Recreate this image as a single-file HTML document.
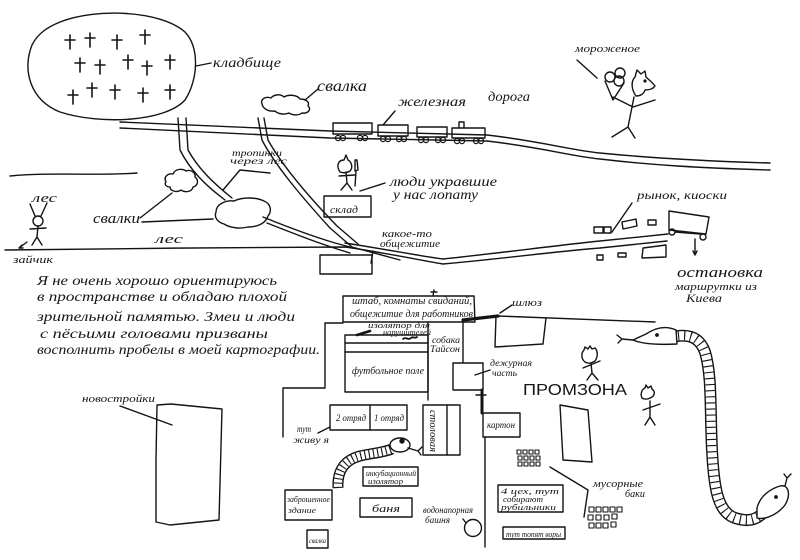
<!DOCTYPE html>
<html><head><meta charset="utf-8"><style>
html,body{margin:0;padding:0;background:#fff}
svg{display:block}
.t{font-family:"Liberation Serif","DejaVu Serif",serif;font-style:italic;fill:#151515}
.s{font-family:"Liberation Sans","DejaVu Sans",sans-serif;fill:#151515}
</style></head><body>
<svg width="800" height="560" viewBox="0 0 800 560" xmlns="http://www.w3.org/2000/svg">
<rect width="800" height="560" fill="#fff"/>
<g fill="none" stroke="#141414" stroke-width="1.4" stroke-linecap="round" stroke-linejoin="round">
<!-- cemetery -->
<path d="M60,22 C95,8 160,10 185,32 C200,48 198,80 185,100 C165,122 100,125 60,112 C30,100 22,70 32,45 C38,33 48,27 60,22 Z"/>
<path stroke-width="1.6" d="M65,40h10M70,35v14 M85,38h10M90,33v14 M112,40h10M117,35v14 M140,35h10M145,30v14
M75,63h10M80,58v14 M95,65h10M100,60v14 M123,60h10M128,55v14 M142,66h10M147,61v14 M165,60h10M170,55v14
M68,95h10M73,90v14 M87,88h10M92,83v14 M110,90h10M115,85v14 M138,93h10M143,88v14 M165,90h10M170,85v14"/>
<path d="M196,66 L211,63"/>
<!-- clouds -->
<path d="M262,104 c-2,-5 4,-8 9,-6 c3,-4 10,-4 13,-1 c5,-3 13,-2 16,2 c6,0 10,3 8,7 c4,3 0,8 -6,7 c-4,3 -10,2 -13,0 c-5,2 -11,1 -14,-2 c-6,1 -12,-2 -13,-7 z"/>
<path d="M305,100 L318,89"/>
<path d="M166,182 c-3,-5 2,-9 7,-8 c2,-5 9,-6 13,-3 c5,-2 10,2 9,6 c4,3 3,9 -2,10 c-1,5 -8,6 -12,3 c-4,3 -11,1 -11,-3 c-4,0 -6,-3 -4,-5 z"/>
<path d="M216,212 c0,-8 10,-12 18,-11 c8,-4 22,-4 30,0 c7,3 8,10 4,15 c-2,7 -10,11 -20,11 c-8,2 -18,1 -24,-3 c-7,-2 -10,-7 -8,-12 z"/>
<path d="M140,218 L172,193 M142,222 L213,219"/>
<!-- railway -->
<path d="M120,122 L330,131 L487,135 C540,141 570,150 600,153 C650,158 700,161 770,163"/>
<path d="M120,128 L330,138 L487,141 C540,147 570,156 600,159 C650,165 700,168 770,170"/>
<!-- train -->
<rect x="333" y="123" width="39" height="11"/>
<rect x="378" y="125" width="30" height="11"/>
<rect x="417" y="127" width="30" height="10"/>
<rect x="452" y="128" width="33" height="10"/>
<path d="M459,128 V122 H464 V128 M383,125 L395,111"/>
<g stroke-width="1.2">
<circle cx="338" cy="138" r="2.6"/><circle cx="343" cy="138" r="2.6"/><circle cx="360" cy="138" r="2.6"/><circle cx="365" cy="138" r="2.6"/>
<circle cx="383" cy="139" r="2.6"/><circle cx="388" cy="139" r="2.6"/><circle cx="399" cy="139" r="2.6"/><circle cx="404" cy="139" r="2.6"/>
<circle cx="421" cy="140" r="2.6"/><circle cx="426" cy="140" r="2.6"/><circle cx="438" cy="140" r="2.6"/><circle cx="443" cy="140" r="2.6"/>
<circle cx="457" cy="141" r="2.6"/><circle cx="462" cy="141" r="2.6"/><circle cx="476" cy="141" r="2.6"/><circle cx="481" cy="141" r="2.6"/>
</g>
<!-- ice cream figure -->
<path d="M577,60 L597,78"/>
<circle cx="610" cy="77" r="5"/><circle cx="620" cy="73" r="5"/><circle cx="619" cy="81" r="5"/>
<path d="M605,81 L613,100 L624,83"/>
<path d="M636,96 C631,89 631,81 635,77 L637,70 L641,74 L645,71 L646,77 C649,80 652,82 655,86 C653,89 649,90 645,90 C644,94 640,96 636,96 Z"/>
<circle cx="645" cy="81" r="0.9" fill="#141414"/>
<path d="M634,97 L628,127 M613,97 L633,107 L655,100 M628,127 L612,137 M628,127 L635,138"/>
<!-- "лес" line left -->
<path d="M10,176 C50,172 100,176 137,173"/>
<!-- paths through forest -->
<path d="M178,118 L180,150 C190,170 205,185 225,200"/>
<path d="M186,118 L188,150 C198,168 212,182 232,198"/>
<path d="M258,118 L262,140 C275,165 300,195 330,228 L352,247 L400,260"/>
<path d="M264,118 L268,140 C282,165 307,195 337,226 L358,244"/>
<path d="M263,217 C290,228 315,237 335,243 L350,247"/>
<path d="M267,223 C295,234 320,244 350,253"/>
<path d="M240,170 L223,190 M240,170 L270,173"/>
<!-- lower road -->
<path d="M5,250 C100,249 250,247 345,247 C380,252 420,260 443,264 C500,259 560,251 600,248 L667,241"/>
<path d="M345,243 C390,250 420,256 443,259 C500,253 560,245 600,241 L668,234"/>
<!-- wolf + sklad -->
<path d="M340,172 C336,166 338,160 344,160 L346,155 L348,160 C352,162 353,168 350,171 C347,173 343,173 340,172 Z"/>
<path d="M355,160 L357,160 L358,170 L355,171 Z M356,171 L355,186"/>
<path d="M346,172 L347,183 M347,183 L341,190 M347,183 L352,190 M339,176 L355,175"/>
<rect x="324" y="196" width="47" height="21"/>
<path d="M360,191 L385,183"/>
<rect x="320" y="255" width="52" height="19"/>
<path d="M371,263 L373,251"/>
<!-- hare -->
<circle cx="38" cy="221" r="5"/>
<path d="M35,216 L30,204 M41,216 L47,203 M38,226 L37,237 M30,229 L46,228 M37,237 L32,245 M37,237 L42,245 M27,242 L19,248 M19,248 L22,245 M19,248 L23,248"/>
<!-- market, bus -->
<path d="M632,203 L612,232"/>
<rect x="594" y="227" width="9" height="6"/><rect x="604" y="227" width="7" height="6"/>
<path d="M622,222 L636,219 L637,226 L623,229 Z"/>
<rect x="648" y="220" width="8" height="5"/>
<path d="M669,211 L709,217 L706,234 L669,230 Z"/>
<circle cx="672" cy="232" r="3"/><circle cx="703" cy="237" r="3"/>
<path d="M675,232 L700,234 M695,239 L695,254 M693,251 L695,255 L697,251"/>
<rect x="597" y="255" width="6" height="5"/><rect x="618" y="253" width="8" height="4"/>
<path d="M643,248 L666,245 L666,257 L642,258 Z"/>
<!-- middle complex -->
<path d="M343,296 L474,296 L475,322 L343,322 Z"/>
<path d="M325,323 L343,323 M325,323 L325,388 L283,388 L283,437"/>
<rect x="345" y="335" width="83" height="57"/>
<path d="M345,343 L428,343 M345,352 L428,352"/>
<path d="M428,322 L428,400"/>
<path d="M463,320 L463,362"/>
<rect x="453" y="363" width="30" height="27"/>
<path stroke-width="3" d="M482,390 L482,413"/>
<path d="M476,395 L486,395"/>
<rect x="483" y="413" width="37" height="24"/>
<path d="M485,437 L485,547"/>
<path stroke-width="3.2" d="M463,320 L498,316"/>
<path d="M498,316 C560,318 610,320 655,322"/>
<path d="M496,316 L495,347 L543,344 L546,318"/>
<path d="M500,313 L512,305"/>
<path d="M475,375 L490,370"/>
<path stroke-width="2.6" d="M357,335 L370,331"/>
<path stroke-width="1.8" d="M403,339 c3,-3 5,2 8,-1 c2,-2 4,1 6,-1"/>
<path d="M433,296 L434,290 M431,292 L437,292"/>
<rect x="330" y="405" width="77" height="25"/>
<path d="M370,405 L370,430"/>
<path d="M330,427 L318,433"/>
<rect x="423" y="405" width="37" height="50"/>
<path d="M447,405 L447,455"/>
<rect x="363" y="467" width="55" height="19"/>
<rect x="285" y="490" width="47" height="30"/>
<rect x="360" y="498" width="52" height="19"/>
<rect x="307" y="530" width="21" height="18"/>
<circle cx="473" cy="528" r="8.5"/>
<path d="M463,519 L466,523"/>
<rect x="498" y="485" width="65" height="27"/>
<rect x="503" y="527" width="62" height="12"/>
<path d="M560,405 L588,410 L592,462 L563,460 Z"/>
<!-- tiny squares -->
<g stroke-width="1.1">
<rect x="517" y="450" width="4" height="4"/><rect x="523" y="450" width="4" height="4"/><rect x="529" y="450" width="4" height="4"/><rect x="535" y="450" width="4" height="4"/>
<rect x="518" y="456" width="4" height="4"/><rect x="524" y="456" width="4" height="4"/><rect x="530" y="456" width="4" height="4"/><rect x="536" y="456" width="4" height="4"/>
<rect x="518" y="462" width="4" height="4"/><rect x="524" y="462" width="4" height="4"/><rect x="530" y="462" width="4" height="4"/><rect x="536" y="462" width="4" height="4"/>
<rect x="589" y="507" width="5" height="5"/><rect x="596" y="507" width="5" height="5"/><rect x="603" y="507" width="5" height="5"/><rect x="610" y="507" width="5" height="5"/><rect x="617" y="507" width="5" height="5"/>
<rect x="588" y="515" width="5" height="5"/><rect x="596" y="515" width="5" height="5"/><rect x="604" y="515" width="5" height="5"/><rect x="612" y="514" width="5" height="5"/>
<rect x="589" y="523" width="5" height="5"/><rect x="596" y="523" width="5" height="5"/><rect x="603" y="523" width="5" height="5"/><rect x="611" y="522" width="5" height="5"/>
</g>
<path d="M550,467 L588,490 L584,517"/>
<!-- new buildings -->
<path d="M157,405 L171,404 L222,409 L219,520 L170,525 L156,522 L156,460 Z"/>
<path d="M120,406 L172,425"/>
<!-- promzona figures -->
<path d="M585,362 c-4,-3 -4,-9 -1,-12 l1,-3 l3,2 l2,-3 l2,3 l3,-1 c3,3 3,9 0,13 c-3,2 -7,3 -10,1 z"/>
<path d="M591,363 L592,373 M583,368 L600,361 M592,373 L587,380 M592,373 L598,380"/>
<path d="M642,398 c-2,-4 0,-9 3,-10 l1,-3 l2,3 l3,-2 l1,3 c3,2 3,6 0,8 c-3,2 -7,3 -10,1 z"/>
<path d="M650,401 L650,417 M643,410 L660,404 M650,417 L645,425 M650,417 L655,425"/>
</g>
<!-- snakes -->
<g fill="none" stroke-linecap="butt" stroke-linejoin="round">
<path d="M338,488 C337,470 345,460 360,456 C372,453 382,453 392,449" stroke="#141414" stroke-width="11"/>
<path d="M338,488 C337,470 345,460 360,456 C372,453 382,453 392,449" stroke="#fff" stroke-width="8.2"/>
<path d="M338,488 C337,470 345,460 360,456 C372,453 382,453 392,449" stroke="#141414" stroke-width="8.2" stroke-dasharray="1.1 3.2"/>
<path d="M672,337 C690,333 700,338 705,352 C712,375 710,410 712,450 C714,490 718,512 735,518 C748,522 755,520 762,514" stroke="#141414" stroke-width="12"/>
<path d="M672,337 C690,333 700,338 705,352 C712,375 710,410 712,450 C714,490 718,512 735,518 C748,522 755,520 762,514" stroke="#fff" stroke-width="9.2"/>
<path d="M672,337 C690,333 700,338 705,352 C712,375 710,410 712,450 C714,490 718,512 735,518 C748,522 755,520 762,514" stroke="#141414" stroke-width="9.2" stroke-dasharray="1.1 5"/>
</g>
<g fill="#fff" stroke="#141414" stroke-width="1.4" stroke-linecap="round" stroke-linejoin="round">
<path d="M676,330 C665,325 655,328 646,334 L633,340 C642,344 658,345 677,344 Z"/>
<path fill="none" d="M633,340 L622,339 L617,335 M622,339 L618,343"/>
<circle cx="657" cy="335" r="1.2" fill="#141414"/>
<path d="M757,508 C760,496 770,489 780,486 C789,484 791,495 785,505 C778,514 766,520 757,518 Z"/>
<path fill="none" d="M785,486 L787,478 L784,474 M787,478 L791,474"/>
<circle cx="776" cy="497" r="1.2" fill="#141414"/>
<ellipse cx="400" cy="445" rx="10" ry="7"/>
<circle cx="402" cy="441" r="2" fill="#141414"/>
<path fill="none" d="M408,448 L418,451 L422,447 M418,451 L421,455"/>
</g>
<!-- text -->
<g class="t">
<text x="213" y="67" font-size="14" textLength="68" lengthAdjust="spacingAndGlyphs">кладбище</text>
<text x="317" y="91" font-size="16" textLength="50" lengthAdjust="spacingAndGlyphs">свалка</text>
<text x="398" y="106" font-size="14" textLength="68" lengthAdjust="spacingAndGlyphs">железная</text>
<text x="488" y="101" font-size="14" textLength="42" lengthAdjust="spacingAndGlyphs">дорога</text>
<text x="575" y="52" font-size="11" textLength="65" lengthAdjust="spacingAndGlyphs">мороженое</text>
<text x="32" y="202" font-size="13" textLength="25" lengthAdjust="spacingAndGlyphs">лес</text>
<text x="155" y="243" font-size="13" textLength="28" lengthAdjust="spacingAndGlyphs">лес</text>
<text x="13" y="263" font-size="11" textLength="40" lengthAdjust="spacingAndGlyphs">зайчик</text>
<text x="93" y="223" font-size="15" textLength="47" lengthAdjust="spacingAndGlyphs">свалки</text>
<text x="232" y="156" font-size="9" textLength="50" lengthAdjust="spacingAndGlyphs">тропинки</text>
<text x="230" y="164" font-size="9" textLength="57" lengthAdjust="spacingAndGlyphs">через лес</text>
<text x="330" y="213" font-size="11" textLength="28" lengthAdjust="spacingAndGlyphs">склад</text>
<text x="390" y="186" font-size="14" textLength="107" lengthAdjust="spacingAndGlyphs">люди укравшие</text>
<text x="393" y="199" font-size="14" textLength="85" lengthAdjust="spacingAndGlyphs">у нас лопату</text>
<text x="382" y="237" font-size="11" textLength="50" lengthAdjust="spacingAndGlyphs">какое-то</text>
<text x="380" y="247" font-size="11" textLength="60" lengthAdjust="spacingAndGlyphs">общежитие</text>
<text x="637" y="199" font-size="12" textLength="90" lengthAdjust="spacingAndGlyphs">рынок, киоски</text>
<text x="677" y="277" font-size="15" textLength="86" lengthAdjust="spacingAndGlyphs">остановка</text>
<text x="675" y="290" font-size="11" textLength="82" lengthAdjust="spacingAndGlyphs">маршрутки из</text>
<text x="686" y="302" font-size="12" textLength="36" lengthAdjust="spacingAndGlyphs">Киева</text>
<text x="37" y="285" font-size="14" textLength="240" lengthAdjust="spacingAndGlyphs">Я не очень хорошо ориентируюсь</text>
<text x="37" y="301" font-size="14" textLength="250" lengthAdjust="spacingAndGlyphs">в пространстве и обладаю плохой</text>
<text x="37" y="321" font-size="14" textLength="258" lengthAdjust="spacingAndGlyphs">зрительной памятью. Змеи и люди</text>
<text x="40" y="338" font-size="14" textLength="228" lengthAdjust="spacingAndGlyphs">с пёсьими головами призваны</text>
<text x="37" y="354" font-size="14" textLength="283" lengthAdjust="spacingAndGlyphs">восполнить пробелы в моей картографии.</text>
<text x="352" y="304" font-size="10" textLength="120" lengthAdjust="spacingAndGlyphs">штаб, комнаты свиданий,</text>
<text x="350" y="317" font-size="10" textLength="123" lengthAdjust="spacingAndGlyphs">общежитие для работников</text>
<text x="368" y="328" font-size="8" textLength="62" lengthAdjust="spacingAndGlyphs">изолятор для</text>
<text x="383" y="335" font-size="8" textLength="48" lengthAdjust="spacingAndGlyphs">нарушителей</text>
<text x="432" y="343" font-size="9" textLength="28" lengthAdjust="spacingAndGlyphs">собака</text>
<text x="430" y="352" font-size="9" textLength="30" lengthAdjust="spacingAndGlyphs">Тайсон</text>
<text x="352" y="374" font-size="10" textLength="72" lengthAdjust="spacingAndGlyphs">футбольное поле</text>
<text x="336" y="421" font-size="9" textLength="30" lengthAdjust="spacingAndGlyphs">2 отряд</text>
<text x="374" y="421" font-size="9" textLength="30" lengthAdjust="spacingAndGlyphs">1 отряд</text>
<text x="297" y="432" font-size="9" textLength="14" lengthAdjust="spacingAndGlyphs">тут</text>
<text x="293" y="443" font-size="9" textLength="36" lengthAdjust="spacingAndGlyphs">живу я</text>
<text transform="translate(430,410) rotate(90)" font-size="10" textLength="42" lengthAdjust="spacingAndGlyphs">столовая</text>
<text x="366" y="476" font-size="8" textLength="50" lengthAdjust="spacingAndGlyphs">инкубационный</text>
<text x="368" y="484" font-size="8" textLength="35" lengthAdjust="spacingAndGlyphs">изолятор</text>
<text x="287" y="502" font-size="8" textLength="43" lengthAdjust="spacingAndGlyphs">заброшенное</text>
<text x="288" y="513" font-size="8" textLength="28" lengthAdjust="spacingAndGlyphs">здание</text>
<text x="372" y="512" font-size="11" textLength="28" lengthAdjust="spacingAndGlyphs">баня</text>
<text x="423" y="513" font-size="9" textLength="50" lengthAdjust="spacingAndGlyphs">водонапорная</text>
<text x="425" y="523" font-size="9" textLength="25" lengthAdjust="spacingAndGlyphs">башня</text>
<text x="309" y="543" font-size="7" textLength="17" lengthAdjust="spacingAndGlyphs">свалка</text>
<text x="512" y="306" font-size="10" textLength="30" lengthAdjust="spacingAndGlyphs">шлюз</text>
<text x="490" y="366" font-size="9" textLength="42" lengthAdjust="spacingAndGlyphs">дежурная</text>
<text x="492" y="376" font-size="9" textLength="25" lengthAdjust="spacingAndGlyphs">часть</text>
<text x="487" y="428" font-size="9" textLength="28" lengthAdjust="spacingAndGlyphs">картон</text>
<text x="501" y="494" font-size="8" textLength="58" lengthAdjust="spacingAndGlyphs">4 цех, тут</text>
<text x="503" y="502" font-size="8" textLength="40" lengthAdjust="spacingAndGlyphs">собирают</text>
<text x="501" y="510" font-size="8" textLength="55" lengthAdjust="spacingAndGlyphs">рубильники</text>
<text x="506" y="537" font-size="8" textLength="55" lengthAdjust="spacingAndGlyphs">тут топят воры</text>
<text x="593" y="487" font-size="11" textLength="50" lengthAdjust="spacingAndGlyphs">мусорные</text>
<text x="625" y="497" font-size="11" textLength="20" lengthAdjust="spacingAndGlyphs">баки</text>
<text x="82" y="402" font-size="11" textLength="73" lengthAdjust="spacingAndGlyphs">новостройки</text>
</g>
<text class="s" x="523" y="395" font-size="16" textLength="104" lengthAdjust="spacingAndGlyphs">ПРОМЗОНА</text>
</svg>
</body></html>
